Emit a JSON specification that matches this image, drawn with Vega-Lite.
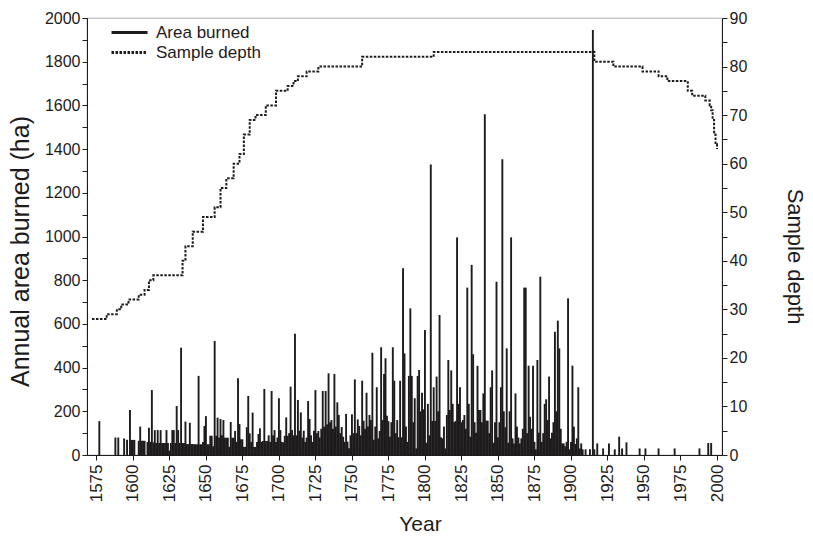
{
  "$schema": "https://vega.github.io/schema/vega-lite/v6.json",
  "width": 635,
  "height": 437,
  "autosize": {"type": "none"},
  "padding": {"left": 87, "top": 18, "right": 91, "bottom": 81},
  "datasets": {
    "burn": [
      {"year":1577,"area":155},{"year":1588,"area":80},{"year":1590,"area":80},{"year":1594,"area":76},{"year":1596,"area":70},{"year":1598,"area":206},{"year":1599,"area":69},{"year":1600,"area":69},{"year":1601,"area":69},
      {"year":1604,"area":65},{"year":1605,"area":130},{"year":1606,"area":65},{"year":1607,"area":65},{"year":1608,"area":65},{"year":1610,"area":60},{"year":1611,"area":125},{"year":1612,"area":60},{"year":1613,"area":297},{"year":1614,"area":58},
      {"year":1615,"area":114},{"year":1616,"area":55},{"year":1617,"area":114},{"year":1618,"area":55},{"year":1619,"area":114},{"year":1620,"area":55},{"year":1621,"area":55},{"year":1622,"area":55},{"year":1623,"area":114},{"year":1624,"area":55},
      {"year":1625,"area":20},{"year":1626,"area":55},{"year":1627,"area":114},{"year":1628,"area":114},{"year":1629,"area":55},{"year":1630,"area":224},{"year":1631,"area":114},{"year":1632,"area":55},{"year":1633,"area":491},{"year":1634,"area":55},
      {"year":1635,"area":55},{"year":1636,"area":153},{"year":1637,"area":50},{"year":1638,"area":50},{"year":1639,"area":147},{"year":1640,"area":50},{"year":1641,"area":50},{"year":1642,"area":49},{"year":1643,"area":49},{"year":1644,"area":49},
      {"year":1645,"area":362},{"year":1646,"area":49},{"year":1647,"area":49},{"year":1648,"area":60},{"year":1649,"area":133},{"year":1650,"area":178},{"year":1651,"area":49},{"year":1652,"area":49},{"year":1653,"area":88},{"year":1654,"area":88},
      {"year":1655,"area":40},{"year":1656,"area":522},{"year":1657,"area":88},{"year":1658,"area":171},{"year":1659,"area":80},{"year":1660,"area":165},{"year":1661,"area":90},{"year":1662,"area":160},{"year":1663,"area":79},{"year":1664,"area":79},
      {"year":1665,"area":79},{"year":1666,"area":37},{"year":1667,"area":151},{"year":1668,"area":79},{"year":1669,"area":79},{"year":1670,"area":110},{"year":1671,"area":60},{"year":1672,"area":351},{"year":1673,"area":142},{"year":1674,"area":72},
      {"year":1675,"area":72},{"year":1676,"area":37},{"year":1677,"area":37},{"year":1678,"area":127},{"year":1679,"area":270},{"year":1680,"area":99},{"year":1681,"area":60},{"year":1682,"area":194},{"year":1683,"area":37},{"year":1684,"area":37},
      {"year":1685,"area":60},{"year":1686,"area":96},{"year":1687,"area":122},{"year":1688,"area":60},{"year":1689,"area":64},{"year":1690,"area":302},{"year":1691,"area":64},{"year":1692,"area":64},{"year":1693,"area":90},{"year":1694,"area":60},
      {"year":1695,"area":293},{"year":1696,"area":90},{"year":1697,"area":114},{"year":1698,"area":60},{"year":1699,"area":80},{"year":1700,"area":260},{"year":1701,"area":114},{"year":1702,"area":60},{"year":1703,"area":58},{"year":1704,"area":88},
      {"year":1705,"area":172},{"year":1706,"area":88},{"year":1707,"area":100},{"year":1708,"area":313},{"year":1709,"area":114},{"year":1710,"area":90},{"year":1711,"area":555},{"year":1712,"area":90},{"year":1713,"area":252},{"year":1714,"area":111},
      {"year":1715,"area":195},{"year":1716,"area":80},{"year":1717,"area":111},{"year":1718,"area":60},{"year":1719,"area":80},{"year":1720,"area":247},{"year":1721,"area":165},{"year":1722,"area":90},{"year":1723,"area":60},{"year":1724,"area":111},
      {"year":1725,"area":297},{"year":1726,"area":100},{"year":1727,"area":110},{"year":1728,"area":80},{"year":1729,"area":120},{"year":1730,"area":293},{"year":1731,"area":130},{"year":1732,"area":293},{"year":1733,"area":140},{"year":1734,"area":374},
      {"year":1735,"area":150},{"year":1736,"area":160},{"year":1737,"area":120},{"year":1738,"area":371},{"year":1739,"area":130},{"year":1740,"area":241},{"year":1741,"area":183},{"year":1742,"area":100},{"year":1743,"area":128},{"year":1744,"area":84},
      {"year":1745,"area":60},{"year":1746,"area":188},{"year":1747,"area":61},{"year":1748,"area":31},{"year":1749,"area":90},{"year":1750,"area":186},{"year":1751,"area":100},{"year":1752,"area":346},{"year":1753,"area":100},{"year":1754,"area":163},
      {"year":1755,"area":133},{"year":1756,"area":90},{"year":1757,"area":340},{"year":1758,"area":157},{"year":1759,"area":120},{"year":1760,"area":285},{"year":1761,"area":130},{"year":1762,"area":183},{"year":1763,"area":160},{"year":1764,"area":468},
      {"year":1765,"area":70},{"year":1766,"area":130},{"year":1767,"area":310},{"year":1768,"area":76},{"year":1769,"area":110},{"year":1770,"area":493},{"year":1771,"area":160},{"year":1772,"area":371},{"year":1773,"area":443},{"year":1774,"area":180},
      {"year":1775,"area":155},{"year":1776,"area":84},{"year":1777,"area":150},{"year":1778,"area":493},{"year":1779,"area":340},{"year":1780,"area":100},{"year":1781,"area":160},{"year":1782,"area":81},{"year":1783,"area":340},{"year":1784,"area":81},
      {"year":1785,"area":855},{"year":1786,"area":465},{"year":1787,"area":130},{"year":1788,"area":60},{"year":1789,"area":362},{"year":1790,"area":671},{"year":1791,"area":362},{"year":1792,"area":150},{"year":1793,"area":260},{"year":1794,"area":30},
      {"year":1795,"area":362},{"year":1796,"area":389},{"year":1797,"area":200},{"year":1798,"area":285},{"year":1799,"area":209},{"year":1800,"area":572},{"year":1801,"area":56},{"year":1802,"area":234},{"year":1803,"area":90},{"year":1804,"area":1330},
      {"year":1805,"area":156},{"year":1806,"area":310},{"year":1807,"area":156},{"year":1808,"area":359},{"year":1809,"area":200},{"year":1810,"area":641},{"year":1811,"area":81},{"year":1812,"area":76},{"year":1813,"area":130},{"year":1814,"area":30},
      {"year":1815,"area":183},{"year":1816,"area":435},{"year":1817,"area":206},{"year":1818,"area":387},{"year":1819,"area":234},{"year":1820,"area":150},{"year":1821,"area":156},{"year":1822,"area":996},{"year":1823,"area":234},{"year":1824,"area":310},
      {"year":1825,"area":150},{"year":1826,"area":160},{"year":1827,"area":183},{"year":1828,"area":120},{"year":1829,"area":766},{"year":1830,"area":234},{"year":1831,"area":84},{"year":1832,"area":870},{"year":1833,"area":461},{"year":1834,"area":150},
      {"year":1835,"area":102},{"year":1836,"area":408},{"year":1837,"area":206},{"year":1838,"area":206},{"year":1839,"area":150},{"year":1840,"area":282},{"year":1841,"area":1559},{"year":1842,"area":157},{"year":1843,"area":157},{"year":1844,"area":100},
      {"year":1845,"area":310},{"year":1846,"area":387},{"year":1847,"area":56},{"year":1848,"area":150},{"year":1849,"area":793},{"year":1850,"area":81},{"year":1851,"area":150},{"year":1852,"area":310},{"year":1853,"area":1353},{"year":1854,"area":200},
      {"year":1855,"area":127},{"year":1856,"area":488},{"year":1857,"area":56},{"year":1858,"area":200},{"year":1859,"area":996},{"year":1860,"area":76},{"year":1861,"area":53},{"year":1862,"area":282},{"year":1863,"area":130},{"year":1864,"area":80},
      {"year":1865,"area":53},{"year":1866,"area":76},{"year":1867,"area":120},{"year":1868,"area":766},{"year":1869,"area":766},{"year":1870,"area":100},{"year":1871,"area":409},{"year":1872,"area":175},{"year":1873,"area":120},{"year":1874,"area":409},
      {"year":1875,"area":60},{"year":1876,"area":26},{"year":1877,"area":435},{"year":1878,"area":102},{"year":1879,"area":816},{"year":1880,"area":60},{"year":1881,"area":100},{"year":1882,"area":234},{"year":1883,"area":255},{"year":1884,"area":160},
      {"year":1885,"area":359},{"year":1886,"area":76},{"year":1887,"area":102},{"year":1888,"area":150},{"year":1889,"area":564},{"year":1890,"area":200},{"year":1891,"area":615},{"year":1892,"area":488},{"year":1893,"area":120},{"year":1894,"area":53},
      {"year":1895,"area":53},{"year":1896,"area":40},{"year":1897,"area":60},{"year":1898,"area":717},{"year":1899,"area":26},{"year":1900,"area":60},{"year":1901,"area":409},{"year":1902,"area":130},{"year":1903,"area":50},{"year":1904,"area":76},
      {"year":1905,"area":310},{"year":1906,"area":30},{"year":1907,"area":53},{"year":1908,"area":26},{"year":1910,"area":26},{"year":1913,"area":26},{"year":1915,"area":1945},{"year":1916,"area":26},{"year":1918,"area":53},{"year":1922,"area":30},
      {"year":1926,"area":53},{"year":1930,"area":26},{"year":1933,"area":84},{"year":1935,"area":30},{"year":1938,"area":58},{"year":1947,"area":30},{"year":1951,"area":30},{"year":1960,"area":30},{"year":1971,"area":30},{"year":1988,"area":30},
      {"year":1994,"area":55},{"year":1996,"area":55}
    ],
    "depth": [
      {"year":1572,"depth":28,"series":"Sample depth"},{"year":1582,"depth":29,"series":"Sample depth"},{"year":1589,"depth":30,"series":"Sample depth"},{"year":1592,"depth":31,"series":"Sample depth"},
      {"year":1597,"depth":32,"series":"Sample depth"},{"year":1604,"depth":33,"series":"Sample depth"},{"year":1608,"depth":34,"series":"Sample depth"},{"year":1611,"depth":36,"series":"Sample depth"},
      {"year":1614,"depth":37,"series":"Sample depth"},{"year":1634,"depth":40,"series":"Sample depth"},{"year":1636,"depth":43,"series":"Sample depth"},{"year":1641,"depth":46,"series":"Sample depth"},
      {"year":1648,"depth":49,"series":"Sample depth"},{"year":1656,"depth":51,"series":"Sample depth"},{"year":1660,"depth":55,"series":"Sample depth"},{"year":1664,"depth":57,"series":"Sample depth"},
      {"year":1669,"depth":60,"series":"Sample depth"},{"year":1673,"depth":62,"series":"Sample depth"},{"year":1676,"depth":66,"series":"Sample depth"},{"year":1680,"depth":69,"series":"Sample depth"},
      {"year":1684,"depth":70,"series":"Sample depth"},{"year":1691,"depth":72,"series":"Sample depth"},{"year":1698,"depth":75,"series":"Sample depth"},{"year":1706,"depth":76,"series":"Sample depth"},
      {"year":1710,"depth":77,"series":"Sample depth"},{"year":1713,"depth":78,"series":"Sample depth"},{"year":1719,"depth":79,"series":"Sample depth"},{"year":1727,"depth":80,"series":"Sample depth"},
      {"year":1757,"depth":82,"series":"Sample depth"},{"year":1806,"depth":83,"series":"Sample depth"},{"year":1916,"depth":81,"series":"Sample depth"},{"year":1929,"depth":80,"series":"Sample depth"},
      {"year":1949,"depth":79,"series":"Sample depth"},{"year":1960,"depth":78,"series":"Sample depth"},{"year":1966,"depth":77,"series":"Sample depth"},{"year":1980,"depth":75,"series":"Sample depth"},
      {"year":1983,"depth":74,"series":"Sample depth"},{"year":1992,"depth":73,"series":"Sample depth"},{"year":1995,"depth":72,"series":"Sample depth"},{"year":1996,"depth":71,"series":"Sample depth"},
      {"year":1997,"depth":69,"series":"Sample depth"},{"year":1998,"depth":66,"series":"Sample depth"},{"year":1999,"depth":64,"series":"Sample depth"},{"year":2000,"depth":63,"series":"Sample depth"}
    ]
  },
  "encoding": {
    "x": {"field": "year", "type": "quantitative", "scale": {"domain": [1572, 2000], "nice": false, "zero": false},
          "axis": {"title": "Year", "values": [1575,1600,1625,1650,1675,1700,1725,1750,1775,1800,1825,1850,1875,1900,1925,1950,1975,2000],
                   "format": "d", "labelAngle": 270, "labelAlign": "right", "labelBaseline": "middle", "labelFontSize": 17, "labelPadding": 4, "titlePadding": 12,
                   "titleX": 333, "labelFlush": false, "labelOverlap": false, "labelBound": false}}
  },
  "layer": [
    {
      "data": {"name": "burn"},
      "mark": {"type": "bar", "width": 1.9, "color": "#1e1b1c"},
      "encoding": {
        "y": {"field": "area", "type": "quantitative", "scale": {"domain": [0, 2000], "nice": false},
              "axis": {"title": "Annual area burned (ha)", "orient": "left", "values": [0,100,200,300,400,500,600,700,800,900,1000,1100,1200,1300,1400,1500,1600,1700,1800,1900,2000],
                       "labelExpr": "datum.value % 200 == 0 ? datum.label : ''", "format": "d", "titleFontSize": 25, "titlePadding": 11, "titleY": 233, "labelOverlap": false}}
      }
    },
    {
      "data": {"name": "depth"},
      "mark": {"type": "line", "interpolate": "step-after", "color": "#1e1b1c", "strokeWidth": 2},
      "encoding": {
        "y": {"field": "depth", "type": "quantitative", "scale": {"domain": [0, 90], "nice": false},
              "axis": {"title": "Sample depth", "orient": "right", "values": [0,5,10,15,20,25,30,35,40,45,50,55,60,65,70,75,80,85,90],
                       "labelExpr": "datum.value % 10 == 0 ? datum.label : ''", "labelOverlap": false, "titleFontSize": 22, "titlePadding": 36, "titleY": 238}},
        "strokeDash": {"field": "series", "type": "nominal",
                       "scale": {"domain": ["Area burned", "Sample depth"], "range": [[1, 0], [2.5, 1.5]]},
                       "legend": {"title": null, "orient": "none", "legendX": 31, "legendY": 3, "symbolType": "M-1.8,0H1.8", "symbolSize": 400, "symbolStrokeWidth": 3,
                                  "symbolStrokeColor": "#1e1b1c", "symbolFillColor": "transparent", "labelFontSize": 17, "labelColor": "#1e1b1c", "rowPadding": 0, "labelOffset": 15}}
      }
    }
  ],
  "resolve": {"scale": {"y": "independent"}},
  "config": {
    "font": "Liberation Sans",
    "view": {"stroke": "#888888", "strokeWidth": 0.7},
    "axis": {"labelFontSize": 16, "titleFontSize": 21, "titleFontWeight": "normal", "labelColor": "#1e1b1c", "titleColor": "#1e1b1c",
             "domainColor": "#1e1b1c", "tickColor": "#1e1b1c", "grid": false, "tickSize": 5, "labelFont": "Liberation Sans", "titleFont": "Liberation Sans", "labelOverlap": false},
    "axisX": {"labelOverlap": false},
    "legend": {"labelFont": "Liberation Sans"}
  }
}
